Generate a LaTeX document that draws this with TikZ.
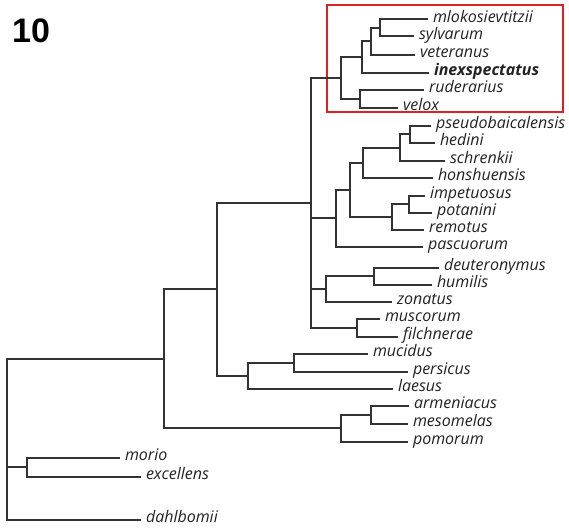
\documentclass[tikz,border=0pt]{standalone}
\usepackage{fontspec}
\newfontfamily\labfont{Open Sans}
\newfontfamily\numfont{Liberation Sans}
\definecolor{treeline}{HTML}{333333}
\definecolor{labtext}{HTML}{222222}
\definecolor{boxred}{HTML}{DD2222}
\begin{document}
\begin{tikzpicture}[x=1pt,y=-1pt,
  edge/.style={draw=treeline,line width=2pt},
  leafedge/.style={edge,shorten >=5pt},
  leaf/.style={anchor=west,inner xsep=0pt,inner ysep=0pt,outer sep=0pt,
    text height=7pt,text depth=1pt,text=labtext,
    font=\labfont\itshape\fontsize{16}{17}\selectfont},
  leafbold/.style={leaf,font=\labfont\itshape\bfseries\fontsize{16}{17}\selectfont},
  hlbox/.style={draw=boxred,line width=2.2pt}]
\useasboundingbox (0,0) rectangle (569,527);
% panel number
\node[anchor=base west,inner sep=0pt,font=\numfont\bfseries\fontsize{34}{34}\selectfont] (num) at (12,43) {10};
% highlight box
\draw[hlbox] (327,5) rectangle (563,112);
% leaf labels
\node[leaf] (mlok) at (433,19.5) {mlokosievtitzii};
\node[leaf] (sylv) at (419,36.5) {sylvarum};
\node[leaf] (vete) at (420,54.5) {veteranus};
\node[leafbold] (inex) at (434,72.5) {inexspectatus};
\node[leaf] (rude) at (429,89.5) {ruderarius};
\node[leaf] (velo) at (403,107.5) {velox};
\node[leaf] (pseu) at (436,125.5) {pseudobaicalensis};
\node[leaf] (hedi) at (440,142.5) {hedini};
\node[leaf] (schr) at (450,160.5) {schrenkii};
\node[leaf] (hons) at (438,177.5) {honshuensis};
\node[leaf] (impe) at (430,195.5) {impetuosus};
\node[leaf] (pota) at (437,212.5) {potanini};
\node[leaf] (remo) at (429,229.5) {remotus};
\node[leaf] (pasc) at (428,246.5) {pascuorum};
\node[leaf] (deut) at (444,267.5) {deuteronymus};
\node[leaf] (humi) at (437,284.5) {humilis};
\node[leaf] (zona) at (397,301.5) {zonatus};
\node[leaf] (musc) at (385,318.5) {muscorum};
\node[leaf] (filc) at (403,336.5) {filchnerae};
\node[leaf] (muci) at (373,353.5) {mucidus};
\node[leaf] (pers) at (413,371.5) {persicus};
\node[leaf] (laes) at (398,388.5) {laesus};
\node[leaf] (arme) at (414,405.5) {armeniacus};
\node[leaf] (meso) at (413,423.5) {mesomelas};
\node[leaf] (pomo) at (413,441.5) {pomorum};
\node[leaf] (mori) at (125,457.5) {morio};
\node[leaf] (exce) at (146,476.5) {excellens};
\node[leaf] (dahl) at (146,519.5) {dahlbomii};
% internal nodes
\coordinate (G) at (379.5,28.5);
\coordinate (F) at (370.5,41.5);
\coordinate (E) at (361.5,56.5);
\coordinate (H) at (359.5,98.5);
\coordinate (D) at (340.5,77.5);
\coordinate (P1) at (409.5,133.5);
\coordinate (P2) at (399.5,147.5);
\coordinate (P3) at (362.5,162.5);
\coordinate (I1) at (408.5,203.5);
\coordinate (I2) at (391.5,216.5);
\coordinate (P4) at (349.5,189.5);
\coordinate (P5) at (335.5,217.5);
\coordinate (Q1) at (373.5,275.5);
\coordinate (Q2) at (325.5,288.5);
\coordinate (R) at (356.5,327.5);
\coordinate (M) at (310.5,202.5);
\coordinate (S1) at (293.5,362.5);
\coordinate (S2) at (247.5,375.5);
\coordinate (B) at (216.5,288.5);
\coordinate (C1) at (370.5,414.5);
\coordinate (C2) at (340.5,427.5);
\coordinate (A) at (163.5,358.5);
\coordinate (T) at (26.5,466.5);
\coordinate (root) at (6.5,438.5);
% leaf branches
\draw[leafedge] (G) |- (mlok);
\draw[leafedge] (G) |- (sylv);
\draw[leafedge] (F) |- (vete);
\draw[leafedge] (E) |- (inex);
\draw[leafedge] (H) |- (rude);
\draw[leafedge] (H) |- (velo);
\draw[leafedge] (P1) |- (pseu);
\draw[leafedge] (P1) |- (hedi);
\draw[leafedge] (P2) |- (schr);
\draw[leafedge] (P3) |- (hons);
\draw[leafedge] (I1) |- (impe);
\draw[leafedge] (I1) |- (pota);
\draw[leafedge] (I2) |- (remo);
\draw[leafedge] (P5) |- (pasc);
\draw[leafedge] (Q1) |- (deut);
\draw[leafedge] (Q1) |- (humi);
\draw[leafedge] (Q2) |- (zona);
\draw[leafedge] (R) |- (musc);
\draw[leafedge] (R) |- (filc);
\draw[leafedge] (S1) |- (muci);
\draw[leafedge] (S1) |- (pers);
\draw[leafedge] (S2) |- (laes);
\draw[leafedge] (C1) |- (arme);
\draw[leafedge] (C1) |- (meso);
\draw[leafedge] (C2) |- (pomo);
\draw[leafedge] (T) |- (mori);
\draw[leafedge] (T) |- (exce);
\draw[leafedge] (root) |- (dahl);
% internal branches
\draw[edge] (F) |- (G);
\draw[edge] (E) |- (F);
\draw[edge] (D) |- (E);
\draw[edge] (D) |- (H);
\draw[edge] (P2) |- (P1);
\draw[edge] (P3) |- (P2);
\draw[edge] (I2) |- (I1);
\draw[edge] (P4) |- (P3);
\draw[edge] (P4) |- (I2);
\draw[edge] (P5) |- (P4);
\draw[edge] (Q2) |- (Q1);
\draw[edge] (M) |- (D);
\draw[edge] (M) |- (P5);
\draw[edge] (M) |- (Q2);
\draw[edge] (M) |- (R);
\draw[edge] (S2) |- (S1);
\draw[edge] (B) |- (M);
\draw[edge] (B) |- (S2);
\draw[edge] (C2) |- (C1);
\draw[edge] (A) |- (B);
\draw[edge] (A) |- (C2);
\draw[edge] (root) |- (A);
\draw[edge] (root) |- (T);
\end{tikzpicture}
\end{document}
